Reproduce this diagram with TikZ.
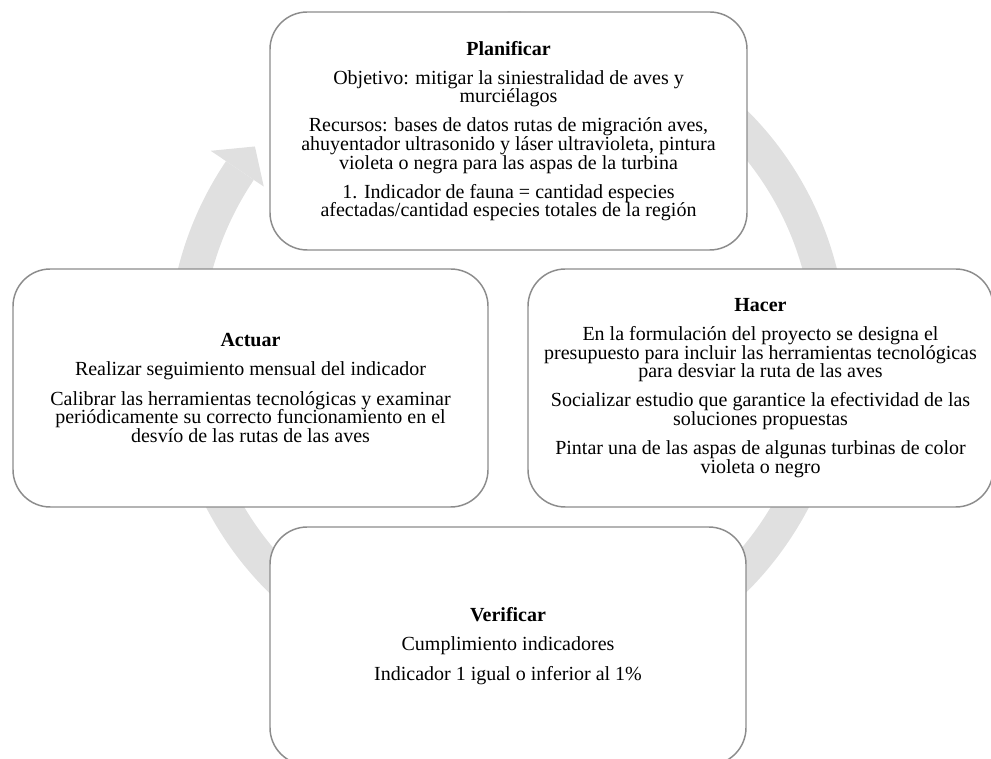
\documentclass[tikz,border=0pt]{standalone}
\usepackage{fontspec}
\setmainfont{Liberation Serif}
\definecolor{ringgray}{RGB}{224,224,224}
\definecolor{boxgray}{RGB}{140,140,140}
\setlength{\lineskiplimit}{-20pt}

\begin{document}
\begin{tikzpicture}[x=0.75pt, y=0.75pt, fase/.style = {draw=boxgray, line width=1.1pt, fill=white, rounded corners=28pt, minimum height=178.5pt, align=center, inner sep=0pt, font=\fontsize{15}{13.9}\selectfont}]
    \useasboundingbox (0,0) rectangle (991,759);
    \clip (0,0) rectangle (991,759);

    % circular arrow behind the boxes
    \coordinate (c) at (507.5,408);
    \fill[ringgray] ([shift={(c)}]146:339.5) arc[start angle=146, end angle=450, radius=339.5]
        -- ([shift={(c)}]90:306) arc[start angle=450, end angle=146, radius=306] -- cycle;
    \fill[ringgray] ([shift={(c)}]146:358) -- ([shift={(c)}]141:325) -- ([shift={(c)}]146:294) -- cycle;

    \node[fase, minimum width=357.75pt] (planificar) at (508.5,628) {\textbf{Planificar}\\[8pt]
        Objetivo: mitigar la siniestralidad de aves y\\ murciélagos\\[8pt]
        Recursos: bases de datos rutas de migración aves,\\ ahuyentador ultrasonido y láser ultravioleta, pintura\\ violeta o negra para las aspas de la turbina\\[8pt]
        1. Indicador de fauna = cantidad especies\\ afectadas/cantidad especies totales de la región};
    \node[fase, minimum width=356.25pt] (actuar) at (250.5,371) {\textbf{Actuar}\\[8pt]
        Realizar seguimiento mensual del indicador\\[8pt]
        Calibrar las herramientas tecnológicas y examinar\\ periódicamente su correcto funcionamiento en el\\ desvío de las rutas de las aves};
    \node[fase, minimum width=348.75pt] (hacer) at (760.5,371) {\textbf{Hacer}\\[8pt]
        En la formulación del proyecto se designa el\\ presupuesto para incluir las herramientas tecnológicas\\ para desviar la ruta de las aves\\[8pt]
        Socializar estudio que garantice la efectividad de las\\ soluciones propuestas\\[8pt]
        Pintar una de las aspas de algunas turbinas de color\\ violeta o negro};
    \node[fase, minimum width=357pt] (verificar) at (508,113) {\textbf{Verificar}\\[8pt]
        Cumplimiento indicadores\\[8pt]
        Indicador 1 igual o inferior al 1\%};
\end{tikzpicture}
\end{document}
